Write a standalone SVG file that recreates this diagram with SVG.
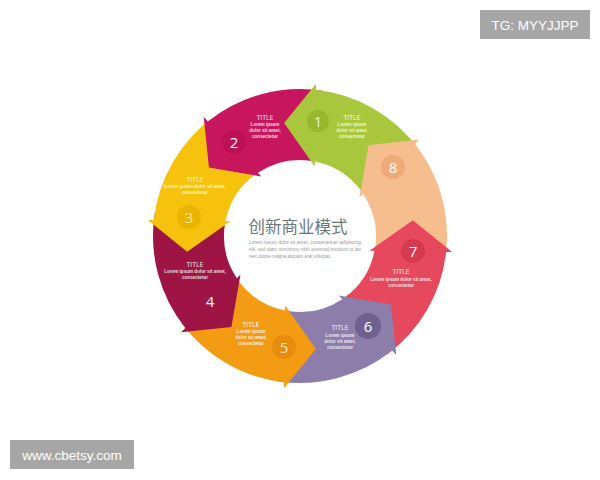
<svg xmlns="http://www.w3.org/2000/svg" xmlns:xlink="http://www.w3.org/1999/xlink" width="600" height="480" viewBox="0 0 600 480">
<style>
.t{font-family:"DejaVu Sans Condensed","DejaVu Sans",sans-serif;font-size:7px;text-anchor:middle;fill:#fff;fill-opacity:.9}
.l{font-family:"Liberation Sans",Arial,sans-serif;font-size:4.6px;font-weight:bold;text-anchor:middle;fill:#fff;fill-opacity:.85}
.n{font-family:"Open Sans","Liberation Sans",sans-serif;font-size:15px;text-anchor:middle;fill:#fff}
.cl{font-family:"Liberation Sans",Arial,sans-serif;font-size:5px;fill:#9a9a9a}
.badge{font-family:"Liberation Sans",Arial,sans-serif;font-size:13.5px;fill:#fff;text-anchor:middle}
</style>
<defs>
<path id="arrow" d="M75.94,3 L70.9,3.72 L109.02,-33.33 L152.79,-8.01 L146.83,-7.16 A147,147 0 0 1 103.94,103.94 L53.74,53.74 A76,76 0 0 0 75.94,3 Z"/>
<path id="head" d="M75.94,3 L70.9,3.72 L109.02,-33.33 L152.79,-8.01 L146.83,-7.16 A147,147 0 0 1 138.13,50.28 L71.42,25.99 A76,76 0 0 0 75.94,3 Z"/>
</defs>
<rect width="600" height="480" fill="#fff"/>

<g id="node8">
<use xlink:href="#arrow" transform="translate(300,236) rotate(-36)" fill="#f6bd8e"/>
<text class="t" x="407" y="189">TITLE</text>
<text class="l" x="407" y="196">Lorem ipsum dolor sit amet,</text>
<text class="l" x="407" y="202">consectetur</text>
</g>
<g id="node7">
<use xlink:href="#arrow" transform="translate(300,236) rotate(9)" fill="#e6495d"/>
<circle cx="413" cy="251" r="12" fill="#d63a50"/>
<text class="n" x="413" y="257">7</text>
<text class="t" x="401" y="274">TITLE</text>
<text class="l" x="401" y="281">Lorem ipsum dolor sit amet,</text>
<text class="l" x="401" y="287">consectetur</text>
</g>
<g id="node6">
<use xlink:href="#arrow" transform="translate(300,236) rotate(54)" fill="#8c7dab"/>
<circle cx="368" cy="326" r="13" fill="#6f6090"/>
<text class="n" x="368" y="332">6</text>
<text class="t" x="340" y="330">TITLE</text>
<text class="l" x="340" y="337">Lorem ipsum</text>
<text class="l" x="340" y="343">dolor sit amet,</text>
<text class="l" x="340" y="349">consectetur</text>
</g>
<g id="node5">
<use xlink:href="#arrow" transform="translate(300,236) rotate(99)" fill="#f29b13"/>
<circle cx="284" cy="347" r="12" fill="#e88b0e"/>
<text class="n" x="284" y="353" style="fill:#fde6bf">5</text>
<text class="t" x="251" y="327">TITLE</text>
<text class="l" x="251" y="333">Lorem ipsum</text>
<text class="l" x="251" y="339">dolor sit amet,</text>
<text class="l" x="251" y="345">consectetur</text>
</g>
<g id="node4">
<use xlink:href="#arrow" transform="translate(300,236) rotate(144)" fill="#9e1444"/>
<text class="n" x="210" y="307">4</text>
<text class="t" x="195" y="267">TITLE</text>
<text class="l" x="195" y="273">Lorem ipsum dolor sit amet,</text>
<text class="l" x="195" y="279">consectetur</text>
</g>
<g id="node3">
<use xlink:href="#arrow" transform="translate(300,236) rotate(-171)" fill="#f6c20d"/>
<circle cx="189" cy="217" r="12" fill="#ebb400"/>
<text class="n" x="189" y="223" style="fill:#fce8a0">3</text>
<text class="t" x="195" y="182">TITLE</text>
<text class="l" x="195" y="188">Lorem ipsum dolor sit amet,</text>
<text class="l" x="195" y="194">consectetur</text>
</g>
<g id="node2">
<use xlink:href="#arrow" transform="translate(300,236) rotate(-126)" fill="#c7155e"/>
<circle cx="234" cy="142" r="12" fill="#bd1157"/>
<text class="n" x="234" y="148">2</text>
<text class="t" x="265" y="120">TITLE</text>
<text class="l" x="265" y="126">Lorem ipsum</text>
<text class="l" x="265" y="132">dolor sit amet,</text>
<text class="l" x="265" y="138">consectetur</text>
</g>
<g id="node1">
<use xlink:href="#arrow" transform="translate(300,236) rotate(-81)" fill="#a9c73d"/>
<circle cx="318" cy="121" r="11" fill="#97b72f"/>
<text class="n" x="318" y="127" style="fill:#eef5c8">1</text>
<text class="t" x="352" y="120">TITLE</text>
<text class="l" x="352" y="126">Lorem ipsum</text>
<text class="l" x="352" y="132">dolor sit amet,</text>
<text class="l" x="352" y="138">consectetur</text>
</g>
<g id="node8-head">
<use xlink:href="#head" transform="translate(300,236) rotate(-36)" fill="#f6bd8e"/>
<circle cx="393" cy="167" r="12" fill="#efaa78"/>
<text class="n" x="393" y="173">8</text>
</g>

<g id="center">
<text x="298" y="233" text-anchor="middle" font-family="'Noto Sans CJK SC',sans-serif" font-size="16.5" fill="#6b7878">创新商业模式</text>
<text class="cl" x="249" y="244" textLength="112" lengthAdjust="spacingAndGlyphs">Lorem ipsum dolor sit amet, consectetuer adipiscing</text>
<text class="cl" x="249" y="251" textLength="112" lengthAdjust="spacingAndGlyphs">elit, sed diam nonummy nibh euismod tincidunt ut lao</text>
<text class="cl" x="249" y="258" textLength="82" lengthAdjust="spacingAndGlyphs">reet dolore magna aliquam erat volutpat.</text>
</g>

<g id="badge-tg">
<rect x="480" y="10" width="110" height="29" fill="#a6a6a6"/>
<text class="badge" x="535" y="29.5">TG: MYYJJPP</text>
</g>
<g id="badge-url">
<rect x="10" y="440" width="124" height="29" fill="#a6a6a6"/>
<text class="badge" x="72" y="459.5" font-size="14">www.cbetsy.com</text>
</g>
</svg>
